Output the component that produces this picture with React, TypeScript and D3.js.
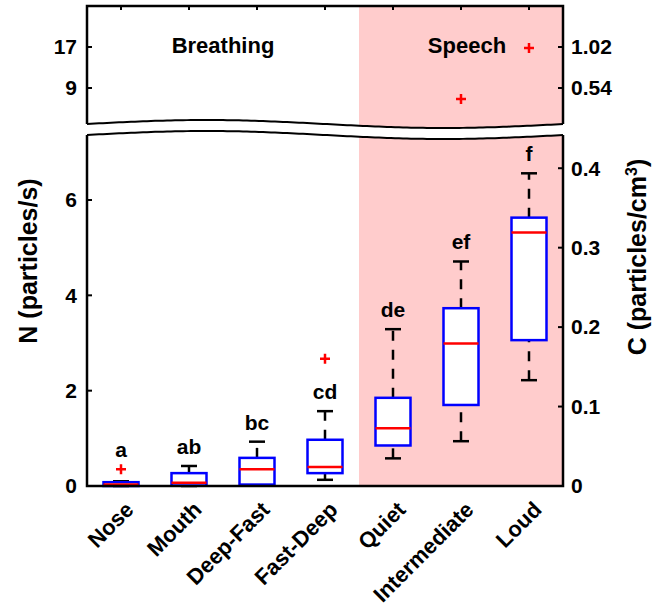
import * as d3 from "d3";

// categories and box statistics (N, particles/s)
const categories = ["Nose", "Mouth", "Deep-Fast", "Fast-Deep", "Quiet", "Intermediate", "Loud"];
const whiskerLow = [0.0, 0.0, 0.02, 0.13, 0.58, 0.94, 2.22];
const q1 = [0.0, 0.01, 0.03, 0.27, 0.85, 1.7, 3.06];
const median = [0.03, 0.07, 0.35, 0.4, 1.21, 2.99, 5.32];
const q3 = [0.08, 0.27, 0.59, 0.97, 1.85, 3.73, 5.63];
const whiskerHigh = [0.1, 0.42, 0.93, 1.57, 3.29, 4.71, 6.56];
const letters = ["a", "ab", "bc", "cd", "de", "ef", "f"];
const letterAt = [0.35, 0.42, 0.93, 1.57, 3.29, 4.71, 6.56];

// outliers: low panel and broken (upper) panel
const outliersLow = [
  { cat: "Nose", value: 0.35 },
  { cat: "Fast-Deep", value: 2.67 },
];
const outliersHigh = [
  { cat: "Intermediate", value: 6.87 },
  { cat: "Loud", value: 16.8 },
];

const lowTicks = [0, 2, 4, 6];
const highTicks = [9, 17];
const cLowTicks = [0, 0.1, 0.2, 0.3, 0.4];
const cHighTicks = [0.54, 1.02];

const W = 654;
const H = 613;
const left = 87;
const right = 563;
const top = 6;
const bottom = 486;
const font = "'Liberation Sans', Arial, sans-serif";

const App = () => {
  const x = d3.scaleBand<string>().domain(categories).range([left, right]);
  const cx = (c: string) => (x(c) as number) + x.bandwidth() / 2;
  const yLow = d3.scaleLinear().domain([0, 6]).range([bottom, 200]);
  const yHigh = d3.scaleLinear().domain([9, 17]).range([88, 47]);
  const cLow = d3.scaleLinear().domain([0, 0.36]).range([bottom, 200]);
  const cHigh = d3.scaleLinear().domain([0.54, 1.02]).range([88, 47]);

  // wavy break lines
  const waveTop = (px: number) => 124 - 4 * Math.sin((2 * Math.PI * (px - left)) / (right - left));
  const waveBot = (px: number) => waveTop(px) + 11;
  const xs = d3.range(left, right + 1, 4);
  const line = d3.line<[number, number]>();
  const topFrame = line([[left, waveTop(left)], [left, top], [right, top], [right, waveTop(right)]]);
  const botFrame = line([[left, waveBot(left)], [left, bottom], [right, bottom], [right, waveBot(right)]]);
  const topWave = line(xs.map((px) => [px, waveTop(px)] as [number, number]));
  const botWave = line(xs.map((px) => [px, waveBot(px)] as [number, number]));
  const gap = line([
    ...xs.map((px) => [px, waveTop(px)] as [number, number]),
    ...xs.slice().reverse().map((px) => [px, waveBot(px)] as [number, number]),
  ]) + "Z";

  const speechX = x("Quiet") as number;
  const boxW = 35;
  const capW = 16;

  const plus = (px: number, py: number, k: string) => (
    <path key={k} d={`M${px - 5},${py}H${px + 5}M${px},${py - 5}V${py + 5}`} stroke="#ff0000" strokeWidth={2.5} />
  );

  return (
    <svg width={W} height={H} style={{ position: "absolute", left: 0, top: 0, background: "#fff" }} fontFamily={font} fontWeight="bold">
      <rect x={speechX} y={top} width={right - speechX} height={bottom - top} fill="#ffcccc" />
      <path d={gap} fill="#fff" />

      {categories.map((c, i) => {
        const m = cx(c);
        return (
          <g key={c}>
            <line x1={m} x2={m} y1={yLow(q3[i])} y2={yLow(whiskerHigh[i])} stroke="#000" strokeWidth={2.5} strokeDasharray="10,9" />
            <line x1={m} x2={m} y1={yLow(whiskerLow[i])} y2={yLow(q1[i])} stroke="#000" strokeWidth={2.5} strokeDasharray="10,9" />
            <line x1={m - capW / 2} x2={m + capW / 2} y1={yLow(whiskerHigh[i])} y2={yLow(whiskerHigh[i])} stroke="#000" strokeWidth={2.5} />
            <line x1={m - capW / 2} x2={m + capW / 2} y1={yLow(whiskerLow[i])} y2={yLow(whiskerLow[i])} stroke="#000" strokeWidth={2.5} />
            <rect x={m - boxW / 2} y={yLow(q3[i])} width={boxW} height={yLow(q1[i]) - yLow(q3[i])} fill="#fff" stroke="#0000ff" strokeWidth={2.5} />
            <line x1={m - boxW / 2} x2={m + boxW / 2} y1={yLow(median[i])} y2={yLow(median[i])} stroke="#ff0000" strokeWidth={2.5} />
            <text x={m} y={yLow(letterAt[i]) - 12} textAnchor="middle" fontSize={21}>{letters[i]}</text>
          </g>
        );
      })}
      {outliersLow.map((o, i) => plus(cx(o.cat), yLow(o.value), "ol" + i))}
      {outliersHigh.map((o, i) => plus(cx(o.cat), yHigh(o.value), "oh" + i))}

      {/* frames */}
      <path d={topFrame ?? ""} fill="none" stroke="#000" strokeWidth={2.5} />
      <path d={botFrame ?? ""} fill="none" stroke="#000" strokeWidth={2.5} />
      <path d={topWave ?? ""} fill="none" stroke="#000" strokeWidth={2} />
      <path d={botWave ?? ""} fill="none" stroke="#000" strokeWidth={2} />

      {/* top ticks */}
      {categories.map((c) => (
        <line key={"tt" + c} x1={cx(c)} x2={cx(c)} y1={top} y2={top + 4} stroke="#000" strokeWidth={2} />
      ))}

      {/* left axis ticks */}
      {lowTicks.map((t) => (
        <g key={"l" + t}>
          <line x1={left} x2={left + 5} y1={yLow(t)} y2={yLow(t)} stroke="#000" strokeWidth={2} />
          <text x={left - 10} y={yLow(t)} dy="0.35em" textAnchor="end" fontSize={21}>{t}</text>
        </g>
      ))}
      {highTicks.map((t) => (
        <g key={"h" + t}>
          <line x1={left} x2={left + 5} y1={yHigh(t)} y2={yHigh(t)} stroke="#000" strokeWidth={2} />
          <text x={left - 10} y={yHigh(t)} dy="0.35em" textAnchor="end" fontSize={21}>{t}</text>
        </g>
      ))}

      {/* right axis ticks */}
      {cLowTicks.map((t) => (
        <g key={"cl" + t}>
          <line x1={right - 5} x2={right} y1={cLow(t)} y2={cLow(t)} stroke="#000" strokeWidth={2} />
          <text x={right + 8} y={cLow(t)} dy="0.35em" fontSize={21}>{t === 0 ? "0" : d3.format(".1f")(t)}</text>
        </g>
      ))}
      {cHighTicks.map((t) => (
        <g key={"ch" + t}>
          <line x1={right - 5} x2={right} y1={cHigh(t)} y2={cHigh(t)} stroke="#000" strokeWidth={2} />
          <text x={right + 8} y={cHigh(t)} dy="0.35em" fontSize={21}>{d3.format(".2f")(t)}</text>
        </g>
      ))}

      {/* x labels */}
      {categories.map((c) => (
        <text key={"xl" + c} transform={`translate(${cx(c) + 14},${bottom + 25}) rotate(-45)`} textAnchor="end" fontSize={22}>{c}</text>
      ))}

      {/* group labels */}
      <text x={(left + speechX) / 2} y={53} textAnchor="middle" fontSize={22}>Breathing</text>
      <text x={467} y={53} textAnchor="middle" fontSize={22}>Speech</text>

      {/* axis titles */}
      <text transform="translate(37,261) rotate(-90)" textAnchor="middle" fontSize={25}>N (particles/s)</text>
      <text transform="translate(646,257) rotate(-90)" textAnchor="middle" fontSize={25}>
        C (particles/cm<tspan dy="-9" fontSize={16}>3</tspan><tspan dy="9">)</tspan>
      </text>
    </svg>
  );
};

export default App;
